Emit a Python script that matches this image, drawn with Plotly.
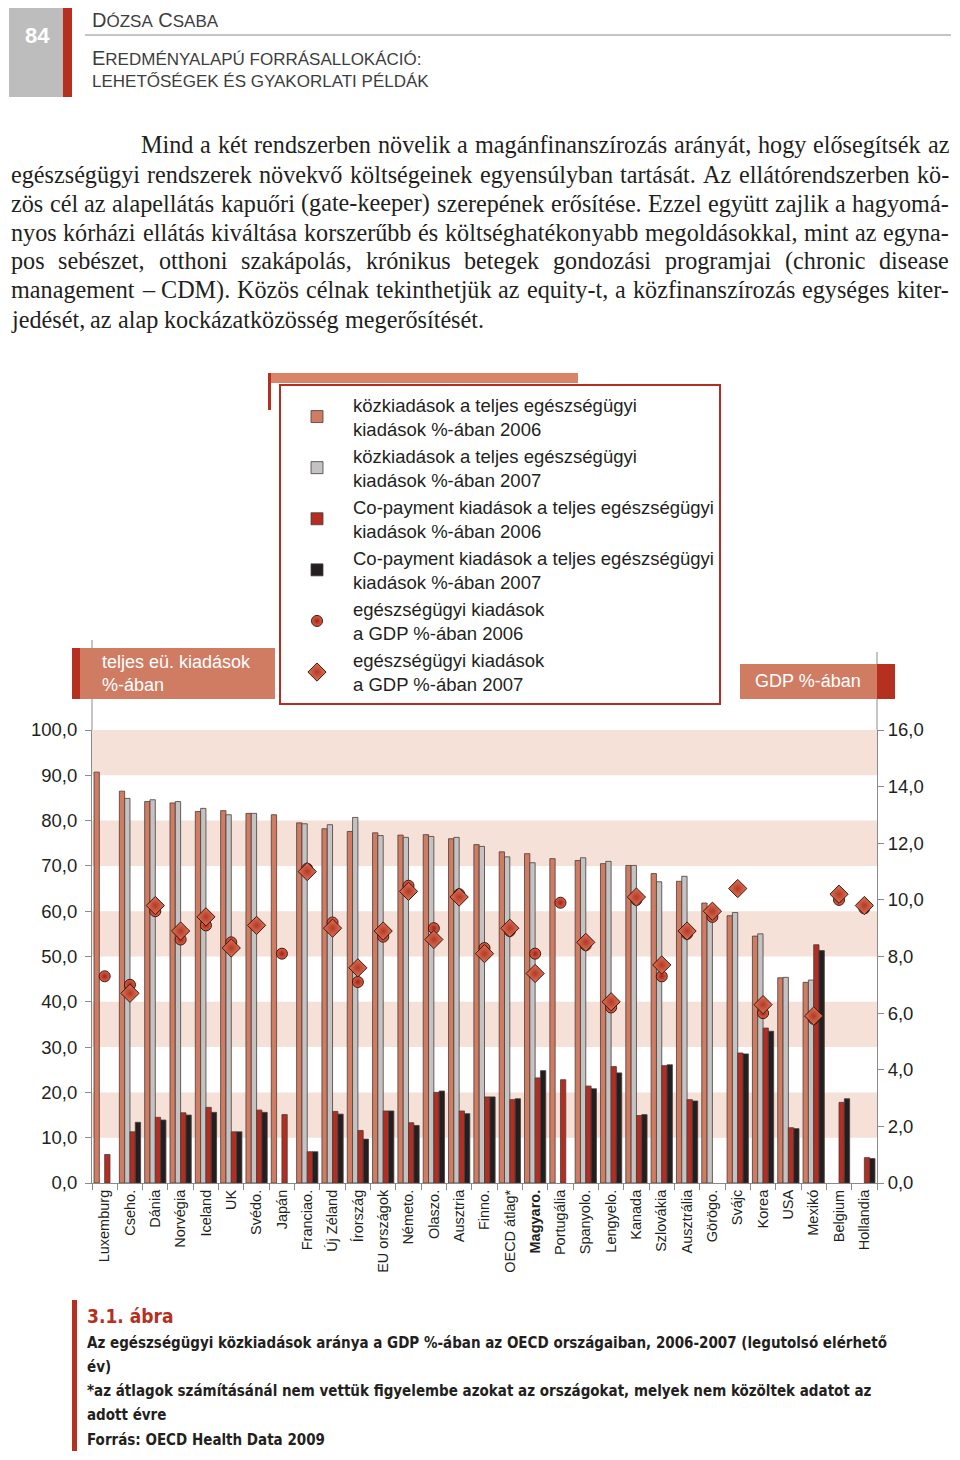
import plotly.graph_objects as go

# ---------------- data ----------------
countries = ["Luxemburg", "Cseho.", "Dánia", "Norvégia", "Iceland", "UK", "Svédo.", "Japán",
             "Franciao.", "Új Zéland", "Írország", "EU országok", "Németo.", "Olaszo.", "Ausztria",
             "Finno.", "OECD átlag*", "<b>Magyaro.</b>", "Portugália", "Spanyolo.", "Lengyelo.",
             "Kanada", "Szlovákia", "Ausztrália", "Görögo.", "Svájc", "Korea", "USA", "Mexikó",
             "Belgium", "Hollandia"]

pub_2006 = [90.7, 86.5, 84.2, 83.9, 82.0, 82.2, 81.6, 81.3, 79.5, 78.2, 77.6, 77.3, 76.8, 76.9, 76.0,
            74.7, 73.1, 72.7, 71.6, 71.2, 70.5, 70.1, 68.3, 66.6, 61.8, 59.0, 54.5, 45.3, 44.3, None, None]
pub_2007 = [None, 84.9, 84.6, 84.2, 82.7, 81.3, 81.6, None, 79.3, 79.1, 80.7, 76.7, 76.3, 76.5, 76.3,
            74.3, 72.0, 70.7, None, 71.8, 71.0, 70.1, 66.5, 67.7, 59.6, 59.7, 55.0, 45.4, 44.8, None, None]
copay_2006 = [6.3, 11.3, 14.5, 15.5, 16.7, 11.3, 16.1, 15.1, 6.9, 15.8, 11.6, 15.9, 13.3, 20.0, 15.9,
              19.0, 18.4, 23.2, 22.8, 21.4, 25.7, 14.9, 25.9, 18.4, None, 28.7, 34.2, 12.2, 52.6, 17.8, 5.6]
copay_2007 = [None, 13.4, 13.9, 15.0, 15.6, 11.3, 15.6, None, 6.9, 15.2, 9.7, 15.9, 12.7, 20.3, 15.3,
              19.0, 18.6, 24.8, None, 20.8, 24.3, 15.1, 26.1, 18.1, None, 28.5, 33.5, 12.0, 51.3, 18.6, 5.4]
gdp_2006 = [7.3, 7.0, 9.6, 8.6, 9.1, 8.5, 9.1, 8.1, 11.1, 9.2, 7.1, 8.7, 10.5, 9.0, 10.2,
            8.3, 8.9, 8.1, 9.9, 8.4, 6.2, 10.0, 7.3, 8.8, 9.4, 10.4, 6.0, None, 5.8, 10.0, 9.7]
gdp_2007 = [None, 6.7, 9.8, 8.9, 9.4, 8.3, 9.1, None, 11.0, 9.0, 7.6, 8.9, 10.3, 8.6, 10.1,
            8.1, 9.0, 7.4, None, 8.5, 6.4, 10.1, 7.7, 8.9, 9.6, 10.4, 6.3, None, 5.9, 10.2, 9.8]

legend_names = [
    "közkiadások a teljes egészségügyi<br>kiadások %-ában 2006",
    "közkiadások a teljes egészségügyi<br>kiadások %-ában 2007",
    "Co-payment kiadások a teljes egészségügyi<br>kiadások %-ában 2006",
    "Co-payment kiadások a teljes egészségügyi<br>kiadások %-ában 2007",
    "egészségügyi kiadások<br>a GDP %-ában 2006",
    "egészségügyi kiadások<br>a GDP %-ában 2007",
]

left_ticks = [0, 10, 20, 30, 40, 50, 60, 70, 80, 90, 100]
right_ticks = [0, 2, 4, 6, 8, 10, 12, 14, 16]
band_ranges = [(10, 20), (30, 40), (50, 60), (70, 80), (90, 100)]

body_lines = [
    "Mind a két rendszerben növelik a magánfinanszírozás arányát, hogy elősegítsék az",
    "egészségügyi rendszerek növekvő költségeinek egyensúlyban tartását. Az ellátórendszerben kö-",
    "zös cél az alapellátás kapuőri (gate-keeper) szerepének erősítése. Ezzel együtt zajlik a hagyomá-",
    "nyos kórházi ellátás kiváltása korszerűbb és költséghatékonyabb megoldásokkal, mint az egyna-",
    "pos sebészet, otthoni szakápolás, krónikus betegek gondozási programjai (chronic disease",
    "management – CDM). Közös célnak tekinthetjük az equity-t, a közfinanszírozás egységes kiter-",
    "jedését, az alap kockázatközösség megerősítését.",
]
caption_lines = [
    "Az egészségügyi közkiadások aránya a GDP %-ában az OECD országaiban, 2006-2007 (legutolsó elérhető",
    "év)",
    "*az átlagok számításánál nem vettük figyelembe azokat az országokat, melyek nem közöltek adatot az",
    "adott évre",
    "Forrás: OECD Health Data 2009",
]

# ---------------- geometry (reference pixel coords, page has an 8px body offset) ----------------
OFF = 8
W, H = 960 - 2 * OFF, 1460 - 2 * OFF
ML = 92 - OFF
MT = 730 - OFF
MR = W - (877 - OFF)
MB = H - (1183 - OFF)
PW, PH = W - ML - MR, H - MT - MB

def px(x):
    return (x - OFF - ML) / PW

def py(y):
    return (H - MB - (y - OFF)) / PH

SALMON = "#d07c63"
GREY = "#c3c3c3"
RED = "#b32e22"
BLACK = "#231f20"
DARKRED = "#b5301f"
BAND = "#f6e1d8"
SANS = "Liberation Sans, Arial, sans-serif"
COND = "DejaVu Sans Condensed, Liberation Sans Narrow, Arial Narrow, sans-serif"
SERIF = "Liberation Serif, Times New Roman, serif"
OUTLINE = dict(color="#4a3c38", width=0.8)

fig = go.Figure()
bar_series = [(pub_2006, SALMON), (pub_2007, GREY), (copay_2006, RED), (copay_2007, BLACK)]
for i, (vals, col) in enumerate(bar_series):
    fig.add_trace(go.Bar(x=countries, y=vals, name=legend_names[i], marker=dict(color=col, line=OUTLINE),
                         legendgroup=f"g{i}", yaxis="y"))

fig.add_trace(go.Scatter(x=countries, y=gdp_2006, mode="markers", name=legend_names[4], yaxis="y2",
                         legendgroup="g4",
                         marker=dict(symbol="circle", size=11, color="#e06148",
                                     gradient=dict(type="radial", color="#9e2418"),
                                     line=dict(color="#3a1812", width=1))))
fig.add_trace(go.Scatter(x=countries, y=gdp_2007, mode="markers", name=legend_names[5], yaxis="y2",
                         legendgroup="g5",
                         marker=dict(symbol="diamond", size=14, color="#e07458",
                                     gradient=dict(type="radial", color="#b23a26"),
                                     line=dict(color="#3a1812", width=1))))

shapes = []
for lo, hi in band_ranges:
    shapes.append(dict(type="rect", xref="paper", yref="y", x0=0, x1=1, y0=lo, y1=hi,
                       fillcolor=BAND, line=dict(width=0), layer="below"))

def rect(x0, y0, x1, y1, color):
    shapes.append(dict(type="rect", xref="paper", yref="paper", x0=px(x0), x1=px(x1),
                       y0=py(y1), y1=py(y0), fillcolor=color, line=dict(width=0)))

def vline(x, y0, y1, color="#8a8a8a", w=1):
    shapes.append(dict(type="line", xref="paper", yref="paper", x0=px(x), x1=px(x),
                       y0=py(y1), y1=py(y0), line=dict(color=color, width=w)))

# header
rect(9, 5, 63, 97, "#bdbdbd")
rect(63, 5, 72, 97, DARKRED)
shapes.append(dict(type="line", xref="paper", yref="paper", x0=px(85), x1=px(951), y0=py(35), y1=py(35),
                   line=dict(color="#8a8a8a", width=1)))
# axis extensions
vline(92, 640, 730)
vline(877, 652, 730)
# legend decorations
rect(268, 373, 578, 383, "#d98469")
rect(268, 373, 271, 410, DARKRED)
# label boxes
rect(72, 648, 80, 699, DARKRED)
rect(80, 648, 275, 699, SALMON)
rect(740, 664, 877, 699, SALMON)
rect(877, 664, 895, 699, DARKRED)
# caption bar
rect(72, 1300, 77, 1451, DARKRED)

annotations = []

def ann(x, y, text, size, color=BLACK, family=SANS, xanchor="left", yanchor="middle"):
    annotations.append(dict(xref="paper", yref="paper", x=px(x), y=py(y), text=text, showarrow=False,
                            xanchor=xanchor, yanchor=yanchor, align="left", borderpad=0,
                            font=dict(size=size, color=color, family=family)))

sc = "font-size:17px"
HEADC = "#3d3d3d"
ann(37, 35, "<b>84</b>", 22, "white", SANS, xanchor="center")
ann(91, 20, f"D<span style='{sc}'>ÓZSA</span> C<span style='{sc}'>SABA</span>", 20, HEADC, SANS)
ann(91, 58, f"E<span style='{sc}'>REDMÉNYALAPÚ FORRÁSALLOKÁCIÓ:</span>", 20, HEADC, SANS)
ann(91, 81, f"<span style='{sc}'>LEHETŐSÉGEK ÉS GYAKORLATI PÉLDÁK</span>", 20, HEADC, SANS)

# ---- justified body text (Times/Liberation Serif advance widths, 1/1000 em) ----
_w = {" ": 250, ",": 250, ".": 250, "-": 333, "(": 333, ")": 333, "–": 500, ":": 278}
_w.update({c: v for c, v in zip("abcdefghijklmnopqrstuvwxyz",
          [444, 500, 444, 500, 444, 333, 500, 500, 278, 278, 500, 278, 778, 500, 500, 500, 500, 333,
           389, 278, 500, 500, 722, 500, 500, 444])})
_w.update({c: v for c, v in zip("ABCDEFGHIJKLMNOPQRSTUVWXYZ",
          [722, 667, 667, 722, 611, 556, 722, 722, 333, 389, 722, 611, 889, 722, 722, 556, 722, 667,
           556, 611, 722, 722, 944, 722, 722, 611])})
_acc = str.maketrans("áéíóöőúüűÁÉÍÓÖŐÚÜŰ", "aeiooouuuAEIOOOUUU")

def tw(s, size):
    return sum(_w.get(c, 500) for c in s.translate(_acc)) / 1000 * size

body_y = [145, 174, 203, 232, 261, 290, 319]
BODY_SIZE = 24.2
RIGHT = 948
for i, line in enumerate(body_lines):
    left = 140 if i == 0 else 10
    words = line.split(" ")
    widths = [tw(w, BODY_SIZE) for w in words]
    if i == len(body_lines) - 1:
        gap = tw(" ", BODY_SIZE)
    else:
        gap = max((RIGHT - left - sum(widths)) / (len(words) - 1), 2.5)
    x = left
    for wd, wdw in zip(words, widths):
        ann(x, body_y[i], wd, BODY_SIZE, BLACK, SERIF)
        x += wdw + gap

ann(101, 673, "teljes eü. kiadások<br>%-ában", 18, "white", SANS)
ann(808, 681, "GDP %-ában", 18, "white", SANS, xanchor="center")

ann(86, 1316, "<b>3.1. ábra</b>", 19, DARKRED, COND)
cap_y = [1343, 1367, 1391, 1415, 1440]
for i, line in enumerate(caption_lines):
    ann(86, cap_y[i], f"<b>{line}</b>", 15, BLACK, COND)

fig.update_layout(
    width=W, height=H,
    margin=dict(l=ML, r=MR, t=MT, b=MB, pad=0, autoexpand=False),
    paper_bgcolor="white", plot_bgcolor="white",
    barmode="group", bargap=0.16, bargroupgap=0,
    separators=", ",
    font=dict(family=SANS, color=BLACK),
    showlegend=True,
    legend=dict(x=px(279), y=py(384), xanchor="left", yanchor="top",
                bordercolor="#b22f25", borderwidth=2, bgcolor="white",
                font=dict(size=18.5, family=SANS, color=BLACK),
                tracegroupgap=0, traceorder="normal", itemwidth=62,
                entrywidth=392, entrywidthmode="pixels"),
    xaxis=dict(type="category", range=[-0.5, len(countries) - 0.5], autorange=False,
               tickangle=-90, tickson="boundaries", ticks="outside", ticklen=6,
               tickcolor="#8a8a8a", showline=True, linecolor="#8a8a8a", showgrid=False,
               tickfont=dict(size=14.5, family=SANS, color=BLACK)),
    yaxis=dict(range=[0, 100], tickvals=left_ticks, tickformat=".1f", ticks="outside", ticklen=6,
               tickcolor="#8a8a8a", showline=True, linecolor="#8a8a8a", showgrid=False, zeroline=False,
               ticklabelstandoff=4, tickfont=dict(size=18.5, family=SANS, color=BLACK)),
    yaxis2=dict(range=[0, 16], tickvals=right_ticks, tickformat=".1f", overlaying="y", side="right",
                ticks="outside", ticklen=6, tickcolor="#8a8a8a", showline=True, linecolor="#8a8a8a",
                showgrid=False, zeroline=False, tickfont=dict(size=18.5, family=SANS, color=BLACK)),
    shapes=shapes,
    annotations=annotations,
)

fig.write_html("out.html")
